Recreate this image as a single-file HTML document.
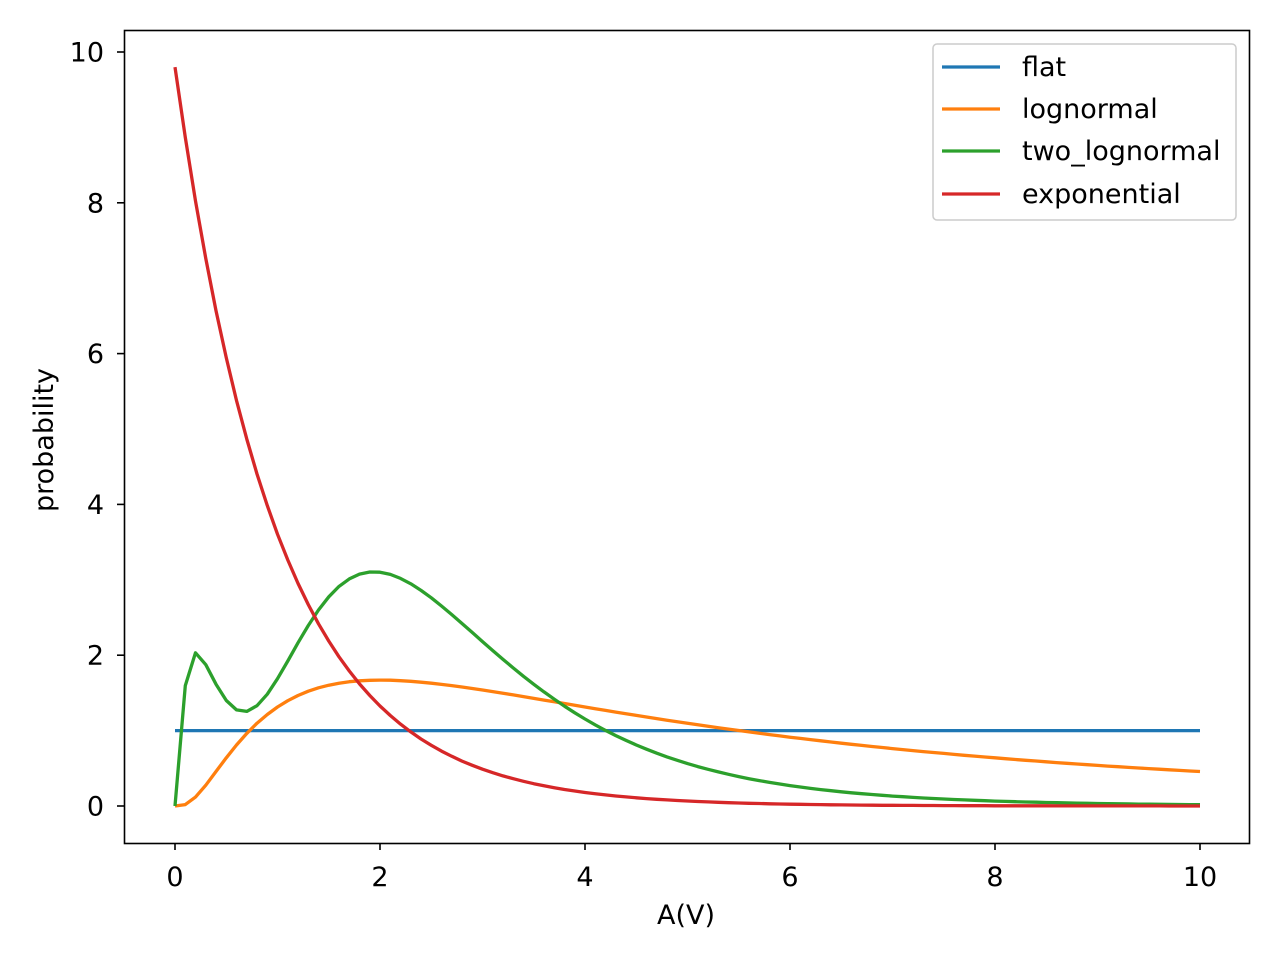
<!DOCTYPE html>
<html><head><meta charset="utf-8"><style>
html,body{margin:0;padding:0;background:#fff;}
text{font-family:"DejaVu Sans","Liberation Sans",sans-serif;font-size:27px;fill:#000;}
</style></head><body>
<svg id="s" width="1280" height="960" xmlns="http://www.w3.org/2000/svg">
<rect x="0" y="0" width="1280" height="960" fill="#fff"/>
<g id="plot"></g>
<rect x="124.5" y="30.5" width="1125" height="813" fill="none" stroke="#000" stroke-width="1.6"/>
<g id="ticks" stroke="#000" stroke-width="1.6"></g>
<g id="labels"></g>
<text x="686" y="924" text-anchor="middle">A(V)</text>
<text transform="translate(53,440) rotate(-90)" text-anchor="middle">probability</text>
<g>
<rect x="933" y="44" width="303" height="176" rx="4" fill="#fff" fill-opacity="0.8" stroke="#ccc" stroke-width="1.5"/>
<line x1="942" y1="67" x2="1000" y2="67" stroke="#1f77b4" stroke-width="3.3"/>
<line x1="942" y1="109" x2="1000" y2="109" stroke="#ff7f0e" stroke-width="3.3"/>
<line x1="942" y1="151" x2="1000" y2="151" stroke="#2ca02c" stroke-width="3.3"/>
<line x1="942" y1="194" x2="1000" y2="194" stroke="#d62728" stroke-width="3.3"/>
<text x="1022" y="76">flat</text>
<text x="1022" y="118">lognormal</text>
<text x="1022" y="160">two_lognormal</text>
<text x="1022" y="203">exponential</text>
</g>
</svg>
<script>
var X=function(x){return 175+102.5*x;},Y=function(y){return 806-75.4*y;};
function ln(x,mu,s){if(x<=0)return 0;var d=Math.log(x)-mu;return Math.exp(-d*d/(2*s*s))/(x*s*Math.sqrt(2*Math.PI));}
var fs=[
 ["#1f77b4",function(x){return 1;}],
 ["#ff7f0e",function(x){return 13.8*ln(x,1.693,1);}],
 ["#2ca02c",function(x){return 8.4*ln(x,0.943,0.5)+1.68*ln(x,-0.609,1);}],
 ["#d62728",function(x){return 9.8*Math.exp(-x);}]
];
var NS="http://www.w3.org/2000/svg",g=document.getElementById("plot");
fs.forEach(function(f){var d="";for(var i=0;i<=100;i++){var x=i/10;d+=(i?"L":"M")+X(x).toFixed(1)+","+Y(f[1](x)).toFixed(1);}
var p=document.createElementNS(NS,"path");p.setAttribute("d",d);p.setAttribute("fill","none");p.setAttribute("stroke",f[0]);p.setAttribute("stroke-width","3.3");p.setAttribute("stroke-linejoin","round");g.appendChild(p);});
var t=document.getElementById("ticks"),l=document.getElementById("labels");
for(var v=0;v<=10;v+=2){
 var a=document.createElementNS(NS,"line");a.setAttribute("x1",X(v));a.setAttribute("x2",X(v));a.setAttribute("y1",843);a.setAttribute("y2",850);t.appendChild(a);
 var b=document.createElementNS(NS,"text");b.setAttribute("x",X(v));b.setAttribute("y",886);b.setAttribute("text-anchor","middle");b.textContent=v;l.appendChild(b);
 var c=document.createElementNS(NS,"line");c.setAttribute("x1",117);c.setAttribute("x2",124);c.setAttribute("y1",Y(v));c.setAttribute("y2",Y(v));t.appendChild(c);
 var e=document.createElementNS(NS,"text");e.setAttribute("x",104);e.setAttribute("y",Y(v)+9.5);e.setAttribute("text-anchor","end");e.textContent=v;l.appendChild(e);
}
</script>
</body></html>
